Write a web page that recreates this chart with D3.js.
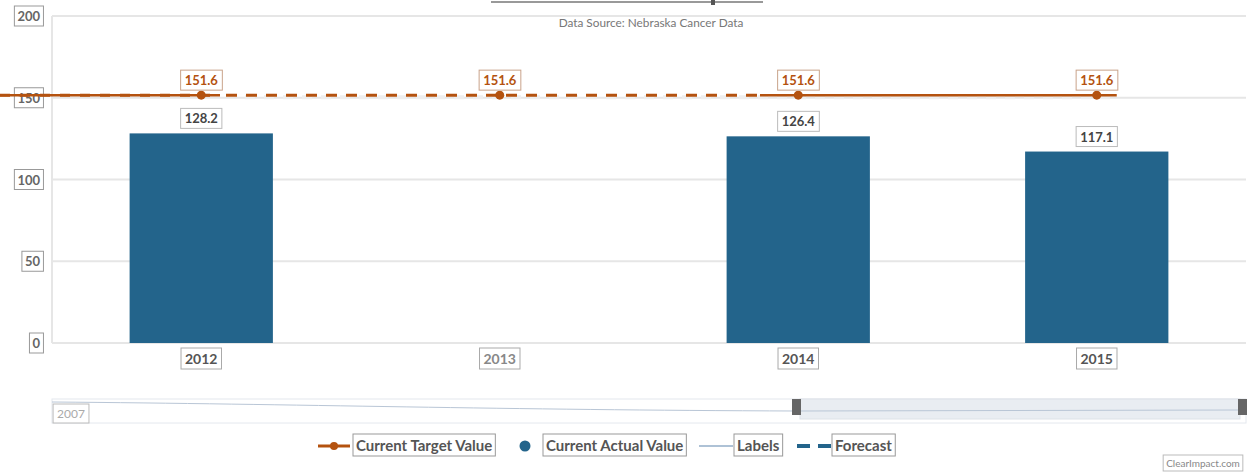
<!DOCTYPE html>
<html>
<head>
<meta charset="utf-8">
<script src="https://cdn.jsdelivr.net/npm/d3@7"></script>
<style>
  body { margin: 0; background: #fff; }
  svg { display: block; font-family: Lato, "Open Sans", sans-serif; }
</style>
</head>
<body>
<svg width="1247" height="475"></svg>
<script>
// values
const years = ["2012", "2013", "2014", "2015"];
const actual = [128.2, null, 126.4, 117.1];
const target = [151.6, 151.6, 151.6, 151.6];
const y_ticks = [0, 50, 100, 150, 200];
const legend_items = ["Current Target Value", "Current Actual Value", "Labels", "Forecast"];
const source_text = "Data Source: Nebraska Cancer Data";
const nav_start = "2007";

const orange = "#b4520f";
const blue = "#23648b";
const grid = "#e6e6e6";

var svg = d3.select("svg");

let x = d3.scaleBand()
          .domain(years)
          .range([52, 1246])
          .paddingInner(0.52)
          .paddingOuter(0.26);
let y = d3.scaleLinear()
          .domain([0, 200])
          .range([343, 16]);

// boxed label helper, the chart draws every text inside a thin frame
function boxed_text(g, tx, ty, text, opts) {
  let t = g.append("text")
           .attr("x", tx)
           .attr("y", ty)
           .attr("text-anchor", opts.anchor || "middle")
           .attr("font-size", opts.size || 13)
           .attr("font-weight", opts.weight || "bold")
           .attr("fill", opts.color || "#555")
           .text(text);
  let bb = t.node().getBBox();
  g.insert("rect", "text")
   .attr("x", bb.x - (opts.padx || 4))
   .attr("y", bb.y - 2)
   .attr("width", bb.width + 2 * (opts.padx || 4))
   .attr("height", bb.height + 4)
   .attr("fill", opts.fill || "#fff")
   .attr("stroke", opts.stroke || "#aaa")
   .attr("stroke-width", 1);
  return t;
}

// top slider + source line
svg.append("line").attr("x1", 491).attr("x2", 763).attr("y1", 2).attr("y2", 2)
   .attr("stroke", "#999").attr("stroke-width", 2);
svg.append("rect").attr("x", 711).attr("y", -2).attr("width", 4).attr("height", 7).attr("fill", "#555");
svg.append("text").attr("x", 651).attr("y", 27).attr("text-anchor", "middle")
   .attr("font-size", 11.8).attr("fill", "#777").text(source_text);

// grid
svg.append("g").selectAll("line").data(y_ticks).enter().append("line")
   .attr("x1", 52).attr("x2", 1246)
   .attr("y1", d => y(d)).attr("y2", d => y(d))
   .attr("stroke", grid).attr("stroke-width", 2);
svg.append("line").attr("x1", 52).attr("x2", 52).attr("y1", 16).attr("y2", 343)
   .attr("stroke", grid).attr("stroke-width", 2);

// y tick labels
let yl = svg.append("g");
y_ticks.forEach(function(d) {
  boxed_text(yl, 40, y(d) + 5, d, { anchor: "end", color: "#666", stroke: "#999", padx: 3 });
});

// bars
svg.append("g").selectAll("rect")
   .data(years.filter((d, i) => actual[i] !== null))
   .enter().append("rect")
   .attr("x", d => x(d))
   .attr("width", x.bandwidth())
   .attr("y", d => y(actual[years.indexOf(d)]))
   .attr("height", d => y(0) - y(actual[years.indexOf(d)]))
   .attr("fill", blue);

// bar value labels
let bl = svg.append("g");
years.forEach(function(d, i) {
  if (actual[i] === null) return;
  boxed_text(bl, x(d) + x.bandwidth() / 2, y(actual[i]) - 10, actual[i].toFixed(1), { color: "#444", stroke: "#bbb" });
});

// target line: solid near the ends, dashed in the middle
let cx = d => x(d) + x.bandwidth() / 2;
let ty = y(target[0]);
let tl = svg.append("g");
tl.append("line").attr("x1", 245).attr("x2", cx(years[3]) + 20).attr("y1", ty + 2).attr("y2", ty + 2)
  .attr("stroke", "#eee").attr("stroke-width", 4).attr("stroke-dasharray", "10,9");
tl.append("line").attr("x1", 0).attr("x2", 220).attr("y1", ty).attr("y2", ty)
  .attr("stroke", orange).attr("stroke-width", 2.5);
tl.append("line").attr("x1", 0).attr("x2", 220).attr("y1", ty).attr("y2", ty)
  .attr("stroke", orange).attr("stroke-width", 3).attr("stroke-dasharray", "10,10");
tl.append("line").attr("x1", 226).attr("x2", 760).attr("y1", ty).attr("y2", ty)
  .attr("stroke", orange).attr("stroke-width", 3).attr("stroke-dasharray", "11,9");
tl.append("line").attr("x1", 760).attr("x2", cx(years[3]) + 20).attr("y1", ty).attr("y2", ty)
  .attr("stroke", orange).attr("stroke-width", 2.5);
tl.selectAll("circle").data(years).enter().append("circle")
  .attr("cx", d => cx(d)).attr("cy", ty).attr("r", 4.5).attr("fill", orange);

years.forEach(function(d, i) {
  boxed_text(tl, cx(d), ty - 10, target[i].toFixed(1), { color: orange, stroke: "#c9a38a" });
});

// x axis labels
let xl = svg.append("g");
years.forEach(function(d, i) {
  boxed_text(xl, cx(d), 364, d, { color: actual[i] === null ? "#888" : "#555", stroke: "#aaa", size: 14 });
});

// navigator
let nav = svg.append("g");
nav.append("rect").attr("x", 52).attr("y", 399).attr("width", 1194).attr("height", 24)
   .attr("fill", "#fff").attr("stroke", "#e4e8ee");
nav.append("rect").attr("x", 800).attr("y", 399).attr("width", 440).attr("height", 20)
   .attr("fill", "#e9edf2").attr("stroke", "#dde2e8");
nav.append("path").attr("d", "M52,402 C300,404 500,410 797,411 L1240,410")
   .attr("fill", "none").attr("stroke", "#b9c6d6").attr("stroke-width", 1);
nav.append("rect").attr("x", 792).attr("y", 399).attr("width", 9).attr("height", 16).attr("fill", "#666");
nav.append("rect").attr("x", 1238).attr("y", 399).attr("width", 9).attr("height", 16).attr("fill", "#666");
boxed_text(nav, 71, 418, nav_start, { color: "#aaa", stroke: "#bbb", size: 12, weight: "normal", padx: 4 });

// legend
let lg = svg.append("g");
let ly = 446;
let lopts = { anchor: "start", color: "#555", stroke: "#999", size: 15, padx: 3 };
lg.append("line").attr("x1", 318).attr("x2", 350).attr("y1", ly).attr("y2", ly)
  .attr("stroke", orange).attr("stroke-width", 3);
lg.append("circle").attr("cx", 334).attr("cy", ly).attr("r", 4).attr("fill", orange);
boxed_text(lg, 356, ly + 5, legend_items[0], lopts);
lg.append("circle").attr("cx", 525).attr("cy", ly).attr("r", 5.5).attr("fill", blue);
boxed_text(lg, 546, ly + 5, legend_items[1], lopts);
lg.append("line").attr("x1", 699).attr("x2", 733).attr("y1", ly).attr("y2", ly)
  .attr("stroke", "#5f86ad").attr("stroke-width", 1.2);
boxed_text(lg, 737, ly + 5, legend_items[2], lopts);
lg.append("line").attr("x1", 797).attr("x2", 831).attr("y1", ly).attr("y2", ly)
  .attr("stroke", blue).attr("stroke-width", 4).attr("stroke-dasharray", "13,8");
boxed_text(lg, 835, ly + 5, legend_items[3], lopts);

// credit
boxed_text(svg, 1203, 467, "ClearImpact.com", { color: "#888", stroke: "#bbb", size: 10, weight: "normal", padx: 3 });
</script>
</body>
</html>
